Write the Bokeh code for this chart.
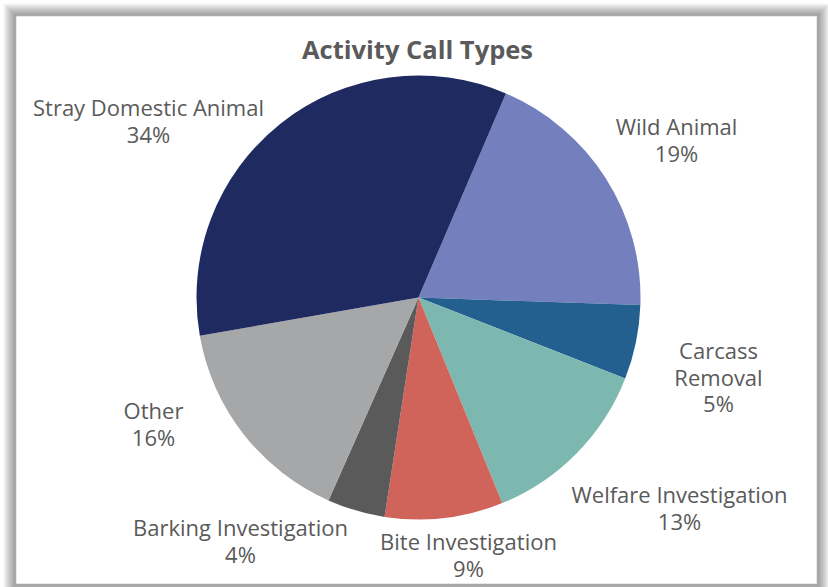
import math
from bokeh.plotting import figure
from bokeh.models import Range1d, ColumnDataSource
from bokeh.core.properties import value
from bokeh.embed import file_html
from bokeh.resources import INLINE

# ---- data (clockwise order, starting at the first slice) ----
categories = ["Wild Animal", "Carcass Removal", "Welfare Investigation",
              "Bite Investigation", "Barking Investigation", "Other",
              "Stray Domestic Animal"]
shares = [19.1, 5.4, 12.9, 8.6, 4.2, 15.6, 34.2]
colors = ["#7480BE", "#23608F", "#7DB8B0", "#D0645A", "#5A5A5A", "#A6A7A9", "#1F2A60"]
title_text = "Activity Call Types"

# ---- layout ----
W, H = 828, 587
FIRST_ANGLE = 23.2          # degrees clockwise from 12 o'clock
CX, CY, R = 418, 297, 222   # screen px
label_pos = {
    "Wild Animal": (676, 139),
    "Carcass Removal": (718, 376),
    "Welfare Investigation": (679, 507),
    "Bite Investigation": (468, 554),
    "Barking Investigation": (240, 540),
    "Other": (153, 423),
    "Stray Domestic Animal": (148, 120),
}
wrap = {"Carcass Removal": ["Carcass", "Removal"]}
LINE_H = 26.5
FONT = "Century Gothic, Open Sans"
TXT = "#5A5A5A"
BOX = (15, 15, 817, 584)    # left, top, right, bottom (screen px)


def X(sx):
    return sx


def Y(sy):
    return H - sy


p = figure(width=W, height=H, output_backend="svg", toolbar_location=None,
           x_range=Range1d(0, W), y_range=Range1d(0, H), min_border=0,
           outline_line_color=None, background_fill_color="white",
           border_fill_color="white")
p.axis.visible = False
p.grid.visible = False

# soft shadow + frame
l, t, r, b = BOX
for d in range(12, 0, -1):
    p.quad(left=[X(l - d)], right=[X(r + d)], bottom=[Y(b + d)], top=[Y(t - d)],
           fill_color="#000000", fill_alpha=0.035, line_color=None)
p.quad(left=[X(l)], right=[X(r)], bottom=[Y(b)], top=[Y(t)],
       fill_color="white", line_color="#A8A8A8", line_width=1.5)

# wedges
total = sum(shares)
starts, ends = [], []
acc = FIRST_ANGLE
for s in shares:
    a0 = acc
    a1 = acc + s / total * 360.0
    starts.append(math.radians(90 - a1))
    ends.append(math.radians(90 - a0))
    acc = a1

src = ColumnDataSource(dict(start=starts, end=ends, color=colors, cat=categories))
p.wedge(x=X(CX), y=Y(CY), radius=R, start_angle="start", end_angle="end",
        fill_color="color", line_color=None, source=src)

# labels
xs, ys, texts = [], [], []
for cat, s in zip(categories, shares):
    lines = wrap.get(cat, [cat]) + [f"{round(s / total * 100)}%"]
    cx, cy = label_pos[cat]
    n = len(lines)
    for k, tx in enumerate(lines):
        xs.append(X(cx))
        ys.append(Y(cy + (k - (n - 1) / 2) * LINE_H))
        texts.append(tx)
p.text(x=xs, y=ys, text=texts, text_align="center", text_baseline="middle",
       text_font=value(FONT), text_font_size="22px", text_color=TXT)

# title
p.text(x=[X(417)], y=[Y(48)], text=[title_text], text_align="center",
       text_baseline="middle", text_font=value(FONT), text_font_size="25.5px",
       text_font_style="bold", text_color=TXT)

open("out.html", "w").write(file_html(p, INLINE))
